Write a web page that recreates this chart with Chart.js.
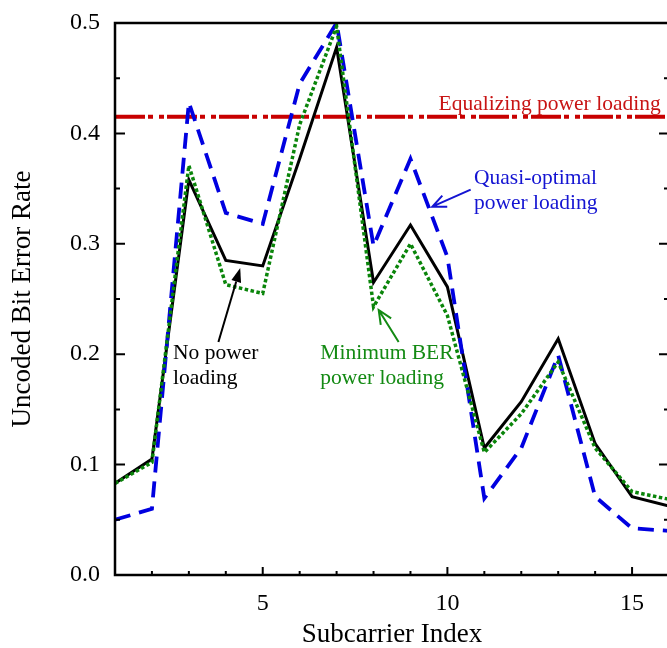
<!DOCTYPE html>
<html>
<head>
<meta charset="utf-8">
<script src="https://cdn.jsdelivr.net/npm/chart.js@4.4.1/dist/chart.umd.min.js"></script>
<style>
  html, body { margin: 0; padding: 0; background: #fff; overflow: hidden; }
  #wrap { position: relative; width: 672px; height: 648px; }
</style>
</head>
<body>
<div id="wrap"><canvas id="ber" width="672" height="648"></canvas></div>
<script>
// Uncoded BER per subcarrier for the four loading schemes
var subcarriers = [1, 2, 3, 4, 5, 6, 7, 8, 9, 10, 11, 12, 13, 14, 15, 16];
var noLoading = [0.083, 0.105, 0.358, 0.285, 0.280, 0.377, 0.478, 0.265, 0.317, 0.261, 0.115, 0.157, 0.214, 0.119, 0.071, 0.0625];
var minBerLoading = [0.083, 0.102, 0.371, 0.263, 0.255, 0.408, 0.497, 0.243, 0.300, 0.235, 0.111, 0.146, 0.193, 0.115, 0.0755, 0.0686];
var quasiOptimal = [0.050, 0.060, 0.428, 0.328, 0.318, 0.445, 0.500, 0.298, 0.377, 0.288, 0.0695, 0.115, 0.199, 0.071, 0.0423, 0.040];
var equalizingX = [1, 16];
var equalizingBer = [0.415, 0.415];

var xTickLabels = [5, 10, 15];
var yTickLabels = [0.0, 0.1, 0.2, 0.3, 0.4, 0.5];

var SERIF = '"Liberation Serif", "Times New Roman", serif';

function points(xs, ys) {
    return xs.map(function (x, i) { return { x: x, y: ys[i] }; });
}

function isLabelled(list, v) {
    return list.some(function (t) { return Math.abs(t - v) < 1e-6; });
}

// keep the plot box fixed: no extra room for overhanging tick labels
function fixBox(s, w, h) {
    if (w !== null) s.width = w;
    if (h !== null) s.height = h;
    s.paddingTop = 0;
    s.paddingBottom = 0;
    s.paddingLeft = 0;
    s.paddingRight = 0;
}

// Curve labels and their pointer arrows, placed in data units
var notes = [
    { lines: ['Equalizing power loading'], x: 9.76, y: 0.421, color: '#c81414' },
    { lines: ['Quasi-optimal', 'power loading'], x: 10.72, y: 0.354, color: '#1414d2' },
    { lines: ['No power', 'loading'], x: 2.57, y: 0.196, color: '#000000' },
    { lines: ['Minimum BER', 'power loading'], x: 6.56, y: 0.196, color: '#138a13' }
];
var arrows = [
    { from: [3.80, 0.211], to: [4.39, 0.278], color: '#000000', filled: true },
    { from: [8.68, 0.211], to: [8.14, 0.240], color: '#138a13', filled: false },
    { from: [10.63, 0.349], to: [9.59, 0.3336], color: '#1414d2', filled: false }
];

// Box frame with inward tick marks on left, right and bottom
var frameTicks = {
    id: 'frameTicks',
    afterDraw: function (chart) {
        var ctx = chart.ctx, a = chart.chartArea;
        var xs = chart.scales.x, ys = chart.scales.y;
        ctx.save();
        ctx.strokeStyle = '#000';
        ctx.lineWidth = 2;
        ctx.beginPath();
        ys.ticks.forEach(function (t) {
            var y = ys.getPixelForValue(t.value);
            var len = isLabelled(yTickLabels, t.value) ? 10 : 5;
            ctx.moveTo(a.left, y); ctx.lineTo(a.left + len, y);
            ctx.moveTo(a.right, y); ctx.lineTo(a.right - len, y);
        });
        xs.ticks.forEach(function (t) {
            var x = xs.getPixelForValue(t.value);
            var len = isLabelled(xTickLabels, t.value) ? 8 : 4;
            ctx.moveTo(x, a.bottom); ctx.lineTo(x, a.bottom - len);
        });
        ctx.stroke();
        ctx.lineWidth = 2.5;
        ctx.strokeRect(a.left, a.top, a.right - a.left, a.bottom - a.top);
        ctx.restore();
    }
};

var annotations = {
    id: 'annotations',
    afterDatasetsDraw: function (chart) {
        var ctx = chart.ctx;
        var xs = chart.scales.x, ys = chart.scales.y;
        ctx.save();
        ctx.font = '21.5px ' + SERIF;
        ctx.textAlign = 'left';
        ctx.textBaseline = 'alphabetic';
        notes.forEach(function (n) {
            ctx.fillStyle = n.color;
            var px = xs.getPixelForValue(n.x), py = ys.getPixelForValue(n.y);
            n.lines.forEach(function (line, i) {
                ctx.fillText(line, px, py + i * 25);
            });
        });
        arrows.forEach(function (ar) {
            var x0 = xs.getPixelForValue(ar.from[0]), y0 = ys.getPixelForValue(ar.from[1]);
            var x1 = xs.getPixelForValue(ar.to[0]), y1 = ys.getPixelForValue(ar.to[1]);
            var ang = Math.atan2(y1 - y0, x1 - x0);
            ctx.strokeStyle = ar.color;
            ctx.fillStyle = ar.color;
            ctx.lineWidth = 2;
            ctx.beginPath();
            if (ar.filled) {
                var hl = 14, hw = 5;
                var bx = x1 - hl * Math.cos(ang), by = y1 - hl * Math.sin(ang);
                ctx.moveTo(x0, y0); ctx.lineTo(bx, by); ctx.stroke();
                ctx.beginPath();
                ctx.moveTo(x1, y1);
                ctx.lineTo(bx + hw * Math.sin(ang), by - hw * Math.cos(ang));
                ctx.lineTo(bx - hw * Math.sin(ang), by + hw * Math.cos(ang));
                ctx.closePath();
                ctx.fill();
            } else {
                var len = 15, spread = 0.42;
                ctx.moveTo(x0, y0); ctx.lineTo(x1, y1);
                ctx.moveTo(x1 - len * Math.cos(ang - spread), y1 - len * Math.sin(ang - spread));
                ctx.lineTo(x1, y1);
                ctx.lineTo(x1 - len * Math.cos(ang + spread), y1 - len * Math.sin(ang + spread));
                ctx.stroke();
            }
        });
        ctx.restore();
    }
};

var ctx = document.getElementById('ber').getContext('2d');

var berChart = new Chart(ctx, {
    type: 'line',
    data: {
        datasets: [{
            label: 'Minimum BER power loading',
            data: points(subcarriers, minBerLoading),
            borderColor: '#0a850a',
            borderWidth: 3.5,
            borderDash: [3.5, 2.5],
            borderCapStyle: 'butt'
        }, {
            label: 'Quasi-optimal power loading',
            data: points(subcarriers, quasiOptimal),
            borderColor: '#0000e0',
            borderWidth: 3.8,
            borderDash: [16, 9],
            borderCapStyle: 'butt'
        }, {
            label: 'No power loading',
            data: points(subcarriers, noLoading),
            borderColor: '#000000',
            borderWidth: 3,
            borderJoinStyle: 'miter'
        }, {
            label: 'Equalizing power loading',
            data: points(equalizingX, equalizingBer),
            borderColor: '#c80000',
            borderWidth: 4,
            borderDash: [30, 3, 5, 6, 5, 3],
            borderCapStyle: 'butt'
        }]
    },
    options: {
        responsive: false,
        animation: false,
        devicePixelRatio: 1,
        elements: { point: { radius: 0 }, line: { tension: 0, fill: false } },
        layout: { padding: { top: 23, right: 3, left: 0, bottom: 0 } },
        plugins: { legend: { display: false }, tooltip: { enabled: false } },
        scales: {
            x: {
                type: 'linear',
                min: 1,
                max: 16,
                afterFit: function (s) { fixBox(s, null, 73); },
                grid: { display: false, drawTicks: false },
                border: { display: false },
                ticks: {
                    stepSize: 1,
                    autoSkip: false,
                    maxRotation: 0,
                    padding: 14,
                    color: '#000',
                    font: { family: SERIF, size: 24 },
                    callback: function (v) { return isLabelled(xTickLabels, v) ? String(v) : ''; }
                },
                title: {
                    display: true,
                    text: 'Subcarrier Index',
                    color: '#000',
                    font: { family: SERIF, size: 27, lineHeight: 1 },
                    padding: { top: 0, bottom: 0 }
                }
            },
            y: {
                min: 0,
                max: 0.5,
                afterFit: function (s) { fixBox(s, 115, null); },
                grid: { display: false, drawTicks: false },
                border: { display: false },
                ticks: {
                    stepSize: 0.05,
                    autoSkip: false,
                    padding: 15,
                    color: '#000',
                    font: { family: SERIF, size: 24 },
                    callback: function (v) { return isLabelled(yTickLabels, v) ? v.toFixed(1) : ''; }
                },
                title: {
                    display: true,
                    text: 'Uncoded Bit Error Rate',
                    color: '#000',
                    font: { family: SERIF, size: 27, lineHeight: 1 },
                    padding: { top: 9.5, bottom: 0 }
                }
            }
        }
    },
    plugins: [frameTicks, annotations]
});
</script>
</body>
</html>
